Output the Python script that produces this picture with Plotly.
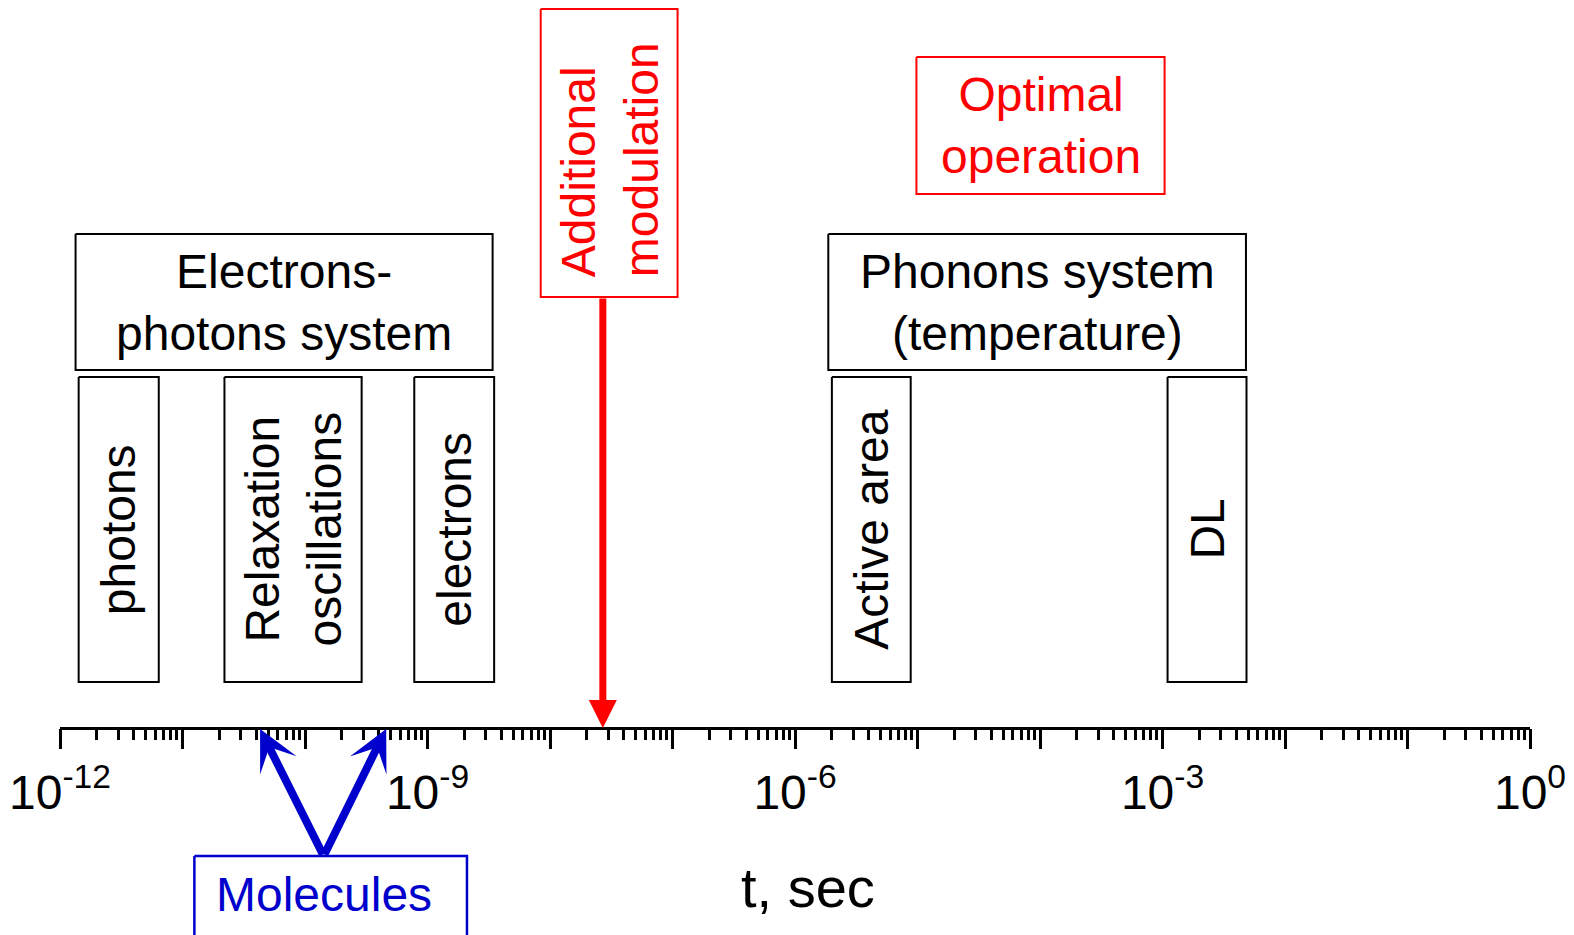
import numpy as np
import plotly.graph_objects as go

# ---------------- data (time spans in seconds) ----------------
box_labels = ["Electrons-<br>photons system", "photons", "Relaxation<br>oscillations", "electrons",
              "Phonons system<br>(temperature)", "Active area", "DL"]
box_start = [1.34e-12, 1.42e-12, 2.2e-11, 7.8e-10, 1.87e-6, 2.0e-6, 1.1e-3]
box_end = [3.4e-9, 6.4e-12, 2.9e-10, 3.5e-9, 4.8e-3, 8.8e-6, 4.85e-3]
box_kind = ["group", "process", "process", "process", "group", "process", "process"]

modulation_label = "Additional<br>modulation"
modulation_span = [8.4e-9, 1.1e-7]
modulation_time = 2.7e-8

optimal_label = "Optimal<br>operation"
optimal_span = [9.8e-6, 1.04e-3]

molecules_label = "Molecules"
molecules_span = [1.25e-11, 2.1e-9]
molecules_origin = 1.42e-10
molecules_times = [4.3e-11, 4.6e-10]

decade_ticks = [1e-12, 1e-11, 1e-10, 1e-9, 1e-8, 1e-7, 1e-6, 1e-5, 1e-4, 1e-3, 1e-2, 1e-1, 1e0]
label_ticks = [1e-12, 1e-9, 1e-6, 1e-3, 1e0]
label_text = ["10<sup>-12</sup>", "10<sup>-9</sup>", "10<sup>-6</sup>", "10<sup>-3</sup>", "10<sup>0</sup>"]
axis_title = "t, sec"

# ---------------- layout (vertical rows, in px from top) ----------------
ROWS = {"group": (234, 370), "process": (377, 682), "optimal": (57, 194),
        "modulation": (9, 297), "molecules": (856, 980)}
AXIS_Y = 728
H, W = 935, 1574
FONT = "Liberation Sans, Arial, sans-serif"
RED = "#FF0000"
BLUE = "#0000CD"

fig = go.Figure()
annotations = []


def add_box(x0, x1, row, color, width=2):
    y0, y1 = ROWS[row]
    fig.add_trace(go.Scatter(x=[x0, x1, x1, x0, x0], y=[y0, y0, y1, y1, y0], mode="lines",
                             line=dict(color=color, width=width), hoverinfo="skip",
                             showlegend=False))


def lcenter(a, b):
    return (np.log10(a) + np.log10(b)) / 2


for lab, s, e, k in zip(box_labels, box_start, box_end, box_kind):
    add_box(s, e, k, "black")
    y0, y1 = ROWS[k]
    annotations.append(dict(x=lcenter(s, e), y=(y0 + y1) / 2, xref="x", yref="y", text=lab,
                            showarrow=False, textangle=0 if k == "group" else -90,
                            font=dict(size=48, color="black", family=FONT)))

# Additional modulation
add_box(modulation_span[0], modulation_span[1], "modulation", RED)
annotations.append(dict(x=lcenter(*modulation_span), y=160, xref="x", yref="y",
                        text=modulation_label, showarrow=False, textangle=-90, align="left",
                        font=dict(size=48, color=RED, family=FONT)))
annotations.append(dict(x=np.log10(modulation_time), y=AXIS_Y, xref="x", yref="y",
                        ax=np.log10(modulation_time), ay=ROWS["modulation"][1],
                        axref="x", ayref="y", text="", showarrow=True, arrowhead=2,
                        arrowwidth=7, arrowsize=0.8, arrowcolor=RED, standoff=0))

# Optimal operation
add_box(optimal_span[0], optimal_span[1], "optimal", RED)
oy0, oy1 = ROWS["optimal"]
annotations.append(dict(x=lcenter(*optimal_span), y=(oy0 + oy1) / 2, xref="x", yref="y",
                        text=optimal_label, showarrow=False,
                        font=dict(size=48, color=RED, family=FONT)))

# Molecules
add_box(molecules_span[0], molecules_span[1], "molecules", BLUE, width=2.5)
annotations.append(dict(x=np.log10(molecules_origin), y=894, xref="x", yref="y",
                        text=molecules_label, showarrow=False,
                        font=dict(size=48, color=BLUE, family=FONT)))
for t in molecules_times:
    annotations.append(dict(x=np.log10(t), y=AXIS_Y + 1, xref="x", yref="y",
                            ax=np.log10(molecules_origin), ay=ROWS["molecules"][0],
                            axref="x", ayref="y", text="", showarrow=True, arrowhead=3,
                            arrowwidth=8, arrowsize=0.85, arrowcolor=BLUE, standoff=0))

# axis title
annotations.append(dict(x=0.5, xshift=13, y=887, xref="paper", yref="y", text=axis_title,
                        showarrow=False, font=dict(size=56, color="black", family=FONT)))

# invisible trace so the label axis is rendered
fig.add_trace(go.Scatter(x=[label_ticks[0]], y=[AXIS_Y], xaxis="x2", mode="markers",
                         marker=dict(opacity=0), hoverinfo="skip", showlegend=False))

fig.update_layout(
    width=W, height=H,
    margin=dict(l=60, r=44, t=0, b=0),
    plot_bgcolor="white", paper_bgcolor="white",
    showlegend=False,
    annotations=annotations,
    xaxis=dict(type="log", range=[-12, 0], anchor="free", position=1 - AXIS_Y / H,
               showline=True, linewidth=3, linecolor="black", showgrid=False, zeroline=False,
               ticks="outside", ticklen=19, tickwidth=3, tickcolor="black",
               tickmode="array", tickvals=decade_ticks, showticklabels=False,
               minor=dict(ticks="outside", ticklen=10, tickwidth=2.5, tickcolor="black",
                          dtick="D1", showgrid=False)),
    xaxis2=dict(type="log", range=[-12, 0], anchor="free", position=1 - AXIS_Y / H,
                overlaying="x", side="bottom",
                showline=False, showgrid=False, zeroline=False,
                ticks="outside", ticklen=19, tickwidth=3, tickcolor="black",
                tickmode="array", tickvals=label_ticks, ticktext=label_text,
                ticklabelstandoff=3,
                tickfont=dict(size=48, color="black", family=FONT)),
    yaxis=dict(range=[H, 0], visible=False, showgrid=False, zeroline=False),
)

fig.write_html("out.html")
